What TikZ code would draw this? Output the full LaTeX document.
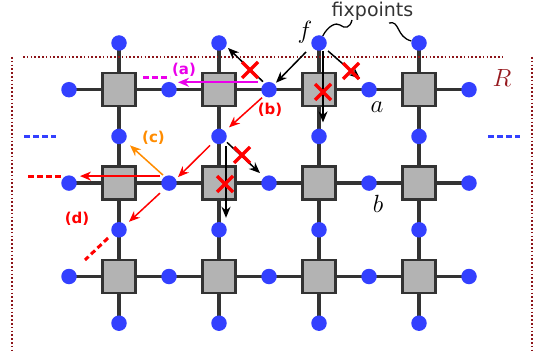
\documentclass[tikz,border=0pt]{standalone}
\usepackage{fontspec}
\newfontfamily\labfont{DejaVu Sans}
\usetikzlibrary{arrows.meta,calc,backgrounds}
\definecolor{dotblue}{RGB}{51,64,255}
\definecolor{linegray}{RGB}{51,51,51}
\definecolor{boxgray}{RGB}{179,179,179}
\definecolor{rdark}{RGB}{140,20,25}
\definecolor{rlab}{RGB}{150,25,30}
\definecolor{magen}{RGB}{235,0,235}
\definecolor{orng}{RGB}{255,140,0}
\definecolor{xred}{RGB}{255,0,0}
\tikzset{
  dot/.style={circle,fill=dotblue,minimum size=15.5pt,inner sep=0pt},
  sq/.style={rectangle,fill=boxgray,draw=linegray,line width=2.5pt,minimum size=33pt,inner sep=0pt},
  gridline/.style={draw=linegray,line width=3.5pt},
  tip/.style={-{Stealth[length=11pt,width=9pt,inset=3.5pt]}},
  blk/.style={tip,draw=black,line width=1.5pt},
  redarr/.style={tip,draw=xred,line width=1.5pt},
  magarr/.style={tip,draw=magen,line width=1.7pt},
  orarr/.style={tip,draw=orng,line width=1.5pt},
  border/.style={draw=rdark,line width=1.6pt,dash pattern=on 1.6pt off 2.2pt},
  contd/.style={line width=3pt,dash pattern=on 5.5pt off 3.5pt},
  tilde/.style={draw=black,line width=1.3pt},
  mathlab/.style={inner sep=0pt,font=\fontsize{24}{28}\selectfont},
  caselab/.style={inner sep=0pt,font=\labfont\bfseries\fontsize{15}{17}\selectfont},
  xcross/.pic={\draw[xred,line width=3.5pt] (-8,-8)--(8,8) (-8,8)--(8,-8);}
}
\begin{document}
\begin{tikzpicture}[x=1pt,y=-1pt]
\useasboundingbox (0,0) rectangle (540,358);
% region R border
\draw[border] (23,57) -- (505,57);
\draw[border] (12,57) -- (12,350);
\draw[border] (532,57) -- (532,350);
% dots on square rows
\foreach \i in {0,2,4,6,8}
  \foreach \j in {1,3,5}
    \node[dot] (d-\i-\j) at ({69+50*\i},{43+46.7*\j}) {};
% dots on link rows
\foreach \i in {1,3,5,7}
  \foreach \j in {0,2,4,6}
    \node[dot] (d-\i-\j) at ({69+50*\i},{43+46.7*\j}) {};
% squares
\foreach \i in {1,3,5,7}
  \foreach \j in {1,3,5}
    \node[sq] (s-\i-\j) at ({69+50*\i},{43+46.7*\j}) {};
% grid lines
\begin{scope}[on background layer]
\foreach \j in {1,3,5}
  \draw[gridline] (d-0-\j.center) -- (d-8-\j.center);
\foreach \i in {1,3,5,7}
  \draw[gridline] (d-\i-0.center) -- (d-\i-6.center);
\end{scope}
% continuation dashes
\draw[contd,draw=dotblue] (24,137) -- (56,137);
\draw[contd,draw=dotblue] (488,137) -- (520,137);
\draw[contd,draw=magen] (143,78) -- (170,78);
\draw[contd,draw=xred] (28,176) -- (61,176);
\draw[contd,draw=xred] (108,238) -- (85,260);
% labels
\node[mathlab] (lf) at (305,32) {$f$};
\node[mathlab] (la) at (377,107) {$a$};
\node[mathlab] (lb) at (378,204) {$b$};
\node[mathlab,text=rlab] (lR) at (502,78) {$R$};
\node[inner sep=0pt,text=linegray,font=\labfont\fontsize{19}{22}\selectfont] (fx) at (372.5,11) {fixpoints};
\node[caselab,text=magen] (lA) at (184,70) {(a)};
\node[caselab,text=xred] (lB) at (270,110) {(b)};
\node[caselab,text=orng] (lC) at (153.5,138) {(c)};
\node[caselab,text=xred] (lD) at (77,219) {(d)};
% fixpoint pointers
\coordinate (t1) at (352,20);
\coordinate (t2) at (389,23);
\draw[tilde] (d-5-0) .. controls (328,26) and (336,22) .. (340,25) .. controls (345,29) and (350,28) .. (t1);
\draw[tilde] (t2) .. controls (400,20) and (396,37) .. (d-7-0);
% arrows
\draw[magarr] ($(d-4-1)+(-11,-7.4)$) -- ($(d-2-1)+(9,-7.4)$);
\draw[blk] ($(d-4-1)+(-6,-8)$) -- ($(d-3-0)+(9,5)$);
\draw[redarr] ($(d-4-1)+(-7,8)$) -- ($(d-3-2)+(10,-9)$);
\draw[blk] ($(d-5-0)+(-13,9)$) -- ($(d-4-1)+(7,-7)$);
\draw[blk] ($(d-5-0)+(4,8)$) -- ($(d-5-2)+(4,-14)$);
\draw[blk] ($(d-5-0)+(9,8)$) -- ($(d-6-1)+(-9,-11)$);
\draw[redarr] ($(d-3-2)+(-9,9)$) -- ($(d-2-3)+(9,-6)$);
\draw[blk] ($(d-3-2)+(8,6)$) -- ($(d-4-3)+(-9,-10)$);
\draw[blk] ($(d-3-2)+(7,10)$) -- ($(d-3-4)+(7,-12)$);
\draw[orarr] ($(d-2-3)+(-6,-8)$) -- ($(d-1-2)+(11,9)$);
\draw[redarr] ($(d-2-3)+(-9,-7)$) -- ($(d-0-3)+(11,-7)$);
\draw[redarr] ($(d-2-3)+(-9,10)$) -- ($(d-1-4)+(10,-8)$);
% forbidden moves
\pic at (250,70) {xcross};
\pic at (323,92) {xcross};
\pic at (351,71) {xcross};
\pic at (242,155) {xcross};
\pic at (225,184) {xcross};
\end{tikzpicture}
\end{document}
